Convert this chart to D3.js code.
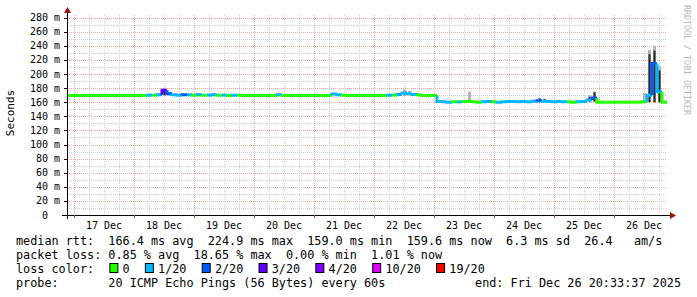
<!DOCTYPE html>
<html lang="en">
<head>
<meta charset="UTF-8">
<title>SmokePing latency</title>
<style>
  body { margin: 0; background: #fff; }
  svg { display: block; }
  text { font-family: "DejaVu Sans Mono", monospace; white-space: pre; }
</style>
</head>
<body>
<svg id="chart" width="697" height="297"></svg>
<script src="https://d3js.org/d3.v7.min.js"></script>
<script>
// time window, 2-hour bins from start
var startTime = new Date(2025, 11, 16, 21, 12);
var endTime = new Date(2025, 11, 26, 21, 12);
var binHours = 2;

// median rtt (ms) per 2h bin, one row per day
var median = [
  169.5,169.5,169.5,169.5,169.5,169.5,169.5,169.5,169.5,169.5,169.5,169.5,
  169.5,169.5,169.5,169.5,170,170,170.5,177,172,170.5,170,170.5,
  170.5,170,170.5,170,170,170.5,170,170,169.5,170,170,169.5,
  169.5,169.5,169.5,169.5,169.5,169.5,170.5,169.5,169.5,169.5,169.5,169.5,
  169.5,169.5,169.5,169.5,169.5,171.5,170.5,170,169.5,169.5,169.5,169.5,
  169.5,169.5,169.5,169.5,170,170,171,173,172,171,170.5,169.5,
  169.5,169.5,161,160.5,160,160.5,160.5,161,161.5,160.5,160,160.5,
  161,160.5,160,160.5,161,161,160.5,161,160.5,161.5,162,161.5,
  161,160.5,161,160.5,160.5,160,160.5,161,163,166,160,160,
  160,160,160,160,160,160,160,160.5,170,215,175,160
];

// loss per bin, index into lossLabels
var loss = [
  0,0,0,0,0,0,0,0,0,0,0,0,
  0,0,0,0,1,0,1,3,2,1,1,2,
  1,0,1,0,1,1,0,1,0,1,0,0,
  0,0,0,0,0,0,1,0,0,0,0,0,
  0,0,0,0,0,1,1,0,0,0,0,0,
  0,0,0,0,1,0,1,1,1,1,0,0,
  0,0,1,1,1,0,1,0,0,0,0,1,
  1,0,1,1,1,1,1,1,1,1,2,1,
  1,1,1,1,0,0,1,1,1,2,0,0,
  0,0,0,0,0,0,0,0,1,2,1,0
];

// smoke (ping spread) where it shows above the median: min, 75th pct, max (ms)
var smokeBin  = [19, 20, 67, 68, 80, 94, 95, 104, 105, 115, 116, 117, 118];
var smokeLow  = [170, 170, 170, 170, 161, 161, 161, 161, 161, 160, 160, 160, 160];
var smokeMid  = [176, 171, 171, 170, 161, 165, 164, 167, 174, 160, 228, 233, 205];
var smokeHigh = [180, 174, 178, 176, 175, 166, 165, 170, 175, 173, 234, 240, 211];

var lossLabels = ['0', '1/20', '2/20', '3/20', '4/20', '10/20', '19/20'];
var lossColors = ['#26ff00', '#00b8ff', '#0059ff', '#5e00ff', '#7e00ff', '#dd00ff', '#ff0000'];

var yTicks = [0, 20, 40, 60, 80, 100, 120, 140, 160, 180, 200, 220, 240, 260, 280];

var legendLines = [
  'median rtt:  166.4 ms avg  224.9 ms max  159.0 ms min  159.6 ms now  6.3 ms sd  26.4   am/s',
  'packet loss: 0.85 % avg  18.65 % max  0.00 % min  1.01 % now'
];
var probeText = 'probe:       20 ICMP Echo Pings (56 Bytes) every 60s';
var endText = 'end: Fri Dec 26 20:33:37 2025';

var svg = d3.select('#chart');
var pLeft = 67, pRight = 667, pTop = 15, pBottom = 215;

var x = d3.scaleTime().domain([startTime, endTime]).range([pLeft, pRight]);
var y = d3.scaleLinear().domain([0, 283.7]).range([pBottom, pTop]);

function binTime(i) { return d3.timeHour.offset(startTime, i * binHours); }

// grid
var grid = svg.append('g');
d3.range(10, 281, 10).forEach(function(v) {
  var major = v % 20 === 0;
  grid.append('line')
    .attr('x1', pLeft).attr('x2', pRight)
    .attr('y1', Math.round(y(v)) + 0.5).attr('y2', Math.round(y(v)) + 0.5)
    .attr('stroke', major ? '#f0a8a8' : '#cfcfcf')
    .attr('stroke-dasharray', '1,1');
});
d3.timeHour.every(6).range(startTime, endTime).forEach(function(t) {
  var major = t.getHours() === 0;
  grid.append('line')
    .attr('x1', Math.round(x(t)) + 0.5).attr('x2', Math.round(x(t)) + 0.5)
    .attr('y1', pTop).attr('y2', pBottom)
    .attr('stroke', major ? '#f0a8a8' : '#cfcfcf')
    .attr('stroke-dasharray', '1,1');
});

// smoke
var smoke = svg.append('g');
smokeBin.forEach(function(b, k) {
  var x0 = x(binTime(b)), x1 = x(binTime(b + 1));
  smoke.append('rect')
    .attr('x', x0 + 1).attr('width', x1 - x0 - 2)
    .attr('y', y(smokeHigh[k])).attr('height', y(smokeLow[k]) - y(smokeHigh[k]))
    .attr('fill', '#b4b4b4');
  smoke.append('rect')
    .attr('x', x0 + 1.5).attr('width', x1 - x0 - 3)
    .attr('y', y(smokeMid[k])).attr('height', Math.max(0, y(smokeLow[k]) - y(smokeMid[k])))
    .attr('fill', '#262626');
});

// median line, coloured by loss
var seg = d3.line().x(function(d) { return d[0]; }).y(function(d) { return d[1]; });
var med = svg.append('g');
median.forEach(function(v, i) {
  var prev = i > 0 ? median[i - 1] : v;
  var pts = [
    [x(binTime(i)), y(prev)],
    [x(binTime(i)), y(v)],
    [x(binTime(i + 1)), y(v)]
  ];
  med.append('path')
    .attr('d', seg(pts))
    .attr('fill', 'none')
    .attr('stroke', lossColors[loss[i]])
    .attr('stroke-width', 3)
    .attr('stroke-linejoin', 'miter');
});

// axes
var axisCol = '#000';
svg.append('line').attr('x1', 62).attr('x2', 670).attr('y1', pBottom + 0.5).attr('y2', pBottom + 0.5)
  .attr('stroke', axisCol);
svg.append('line').attr('x1', pLeft + 0.5).attr('x2', pLeft + 0.5).attr('y1', pBottom + 4).attr('y2', 12)
  .attr('stroke', axisCol);
svg.append('path').attr('d', 'M670,212 L676,215.5 L670,219 Z').attr('fill', '#a01010');
svg.append('path').attr('d', 'M64,13 L67.5,7 L71,13 Z').attr('fill', '#a01010');

// y tick labels
yTicks.forEach(function(v) {
  svg.append('text')
    .attr('x', 60).attr('y', y(v) + 3.5)
    .attr('text-anchor', 'end')
    .attr('font-size', '10px')
    .attr('fill', '#000')
    .attr('xml:space', 'preserve')
    .text(v === 0 ? '0  ' : v + ' m');
  svg.append('line')
    .attr('x1', 64).attr('x2', pLeft)
    .attr('y1', Math.round(y(v)) + 0.5).attr('y2', Math.round(y(v)) + 0.5)
    .attr('stroke', axisCol);
});

// x labels at noon
d3.timeDay.range(d3.timeDay.ceil(startTime), endTime).forEach(function(d) {
  var noon = d3.timeHour.offset(d, 12);
  svg.append('line')
    .attr('x1', Math.round(x(d)) + 0.5).attr('x2', Math.round(x(d)) + 0.5)
    .attr('y1', pBottom).attr('y2', pBottom + 3)
    .attr('stroke', '#c04040');
  if (noon < endTime) {
    svg.append('text')
      .attr('x', x(noon)).attr('y', 229)
      .attr('text-anchor', 'middle')
      .attr('font-size', '10px')
      .text(d3.timeFormat('%d %b')(d));
  }
});

// axis title
svg.append('text')
  .attr('transform', 'translate(14,113) rotate(-90)')
  .attr('text-anchor', 'middle')
  .attr('font-size', '11px')
  .text('Seconds');

// watermark
svg.append('text')
  .attr('transform', 'translate(684,5) rotate(90)')
  .attr('font-size', '8.3px')
  .attr('fill', '#b8b8b8')
  .text('RRDTOOL / TOBI OETIKER');

// legend
var fs = 11.8, cw = fs * 0.602, lx = 16;
legendLines.forEach(function(s, i) {
  svg.append('text')
    .attr('x', lx).attr('y', 245 + i * 14)
    .attr('font-size', fs + 'px')
    .attr('xml:space', 'preserve')
    .text(s);
});
svg.append('text')
  .attr('x', lx).attr('y', 273)
  .attr('font-size', fs + 'px')
  .text('loss color:');
var col = 13;
lossLabels.forEach(function(lbl, i) {
  svg.append('rect')
    .attr('x', lx + col * cw + 1.5).attr('y', 263.5)
    .attr('width', 8).attr('height', 9)
    .attr('fill', lossColors[i])
    .attr('stroke', '#000');
  svg.append('text')
    .attr('x', lx + (col + 2) * cw).attr('y', 273)
    .attr('font-size', fs + 'px')
    .text(lbl);
  col += 2 + lbl.length + 2;
});
svg.append('text')
  .attr('x', lx).attr('y', 287)
  .attr('font-size', fs + 'px')
  .attr('xml:space', 'preserve')
  .text(probeText);
svg.append('text')
  .attr('x', 681).attr('y', 287)
  .attr('text-anchor', 'end')
  .attr('font-size', fs + 'px')
  .text(endText);
</script>
</body>
</html>
